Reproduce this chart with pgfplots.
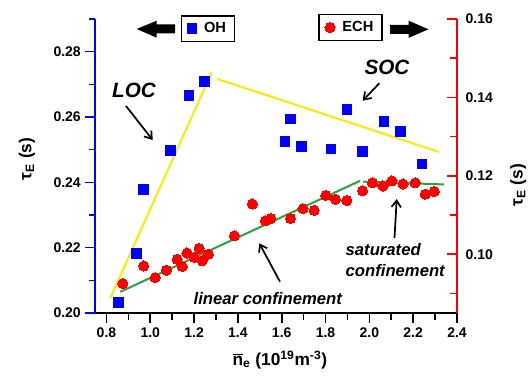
\documentclass[border=0pt]{standalone}
\usepackage{pgfplots}
\pgfplotsset{compat=1.18}
\usepackage{fontspec}
\setmainfont{Liberation Sans}
\usetikzlibrary{arrows.meta}
\definecolor{myyellow}{RGB}{255,235,0}
\definecolor{mygreen}{RGB}{40,165,60}
\definecolor{myblue}{RGB}{0,0,255}
\definecolor{myred}{RGB}{255,0,0}

\pgfplotstableread{
x y
0.855 0.2032
0.938 0.2183
0.970 0.2378
1.091 0.2498
1.176 0.2666
1.248 0.2709
1.615 0.2525
1.640 0.2594
1.691 0.2509
1.824 0.2502
1.898 0.2623
1.969 0.2495
2.066 0.2587
2.141 0.2555
2.241 0.2456
}\ohdata

\pgfplotstableread{
x y
0.875 0.0925
0.970 0.0970
1.022 0.0940
1.074 0.0959
1.123 0.0987
1.146 0.0969
1.167 0.1003
1.200 0.0992
1.223 0.1015
1.237 0.0983
1.265 0.1000
1.384 0.1047
1.466 0.1128
1.525 0.1085
1.550 0.1091
1.640 0.1091
1.697 0.1116
1.748 0.1112
1.801 0.1150
1.845 0.1140
1.897 0.1137
1.969 0.1162
2.014 0.1182
2.062 0.1174
2.103 0.1187
2.154 0.1179
2.209 0.1182
2.255 0.1153
2.296 0.1160
}\echdata

\begin{document}
\begin{tikzpicture}
\path[use as bounding box] (0,0) rectangle (399pt,284.25pt);
\pgfplotsset{
  common/.style={
    at={(71.625pt,49.5pt)}, anchor=south west,
    scale only axis, width=271.125pt, height=220.5pt,
    xmin=0.75, xmax=2.4,
    clip=false,
    /pgf/number format/assume math mode=true,
    ticklabel style={font=\bfseries\fontsize{10.5}{12}\selectfont},
    major tick length=7.5pt, minor tick length=5pt,
    axis line style={-, line width=1.5pt},
    legend cell align=left,
    legend image code/.code={\draw plot coordinates {(0.3cm,0cm)};},
  },
  mylegend/.style={
    draw=black, line width=0.9pt, font=\bfseries\fontsize{11}{13}\selectfont,
    inner xsep=4.5pt, inner ysep=3pt, row sep=0pt,
    /tikz/every odd column/.append style={column sep=3.5pt},
  }
}
% ---------- left axis (OH) ----------
\begin{axis}[common,
  ymin=0.20, ymax=0.29,
  axis x line*=bottom, axis y line*=left,
  tick align=outside,
  xtick={0.8,1.0,1.2,1.4,1.6,1.8,2.0,2.2,2.4},
  minor xtick={0.9,1.1,1.3,1.5,1.7,1.9,2.1,2.3},
  ytick={0.20,0.22,0.24,0.26,0.28},
  minor ytick={0.21,0.23,0.25,0.27,0.29},
  xticklabel style={/pgf/number format/.cd,fixed,fixed zerofill,precision=1},
  yticklabel style={/pgf/number format/.cd,fixed,fixed zerofill,precision=2},
  x axis line style={draw=black},
  y axis line style={draw=myblue},
  every x tick/.style={black, line width=1.2pt},
  every y tick/.style={myblue, line width=1.2pt},
  xtick pos=bottom, ytick pos=left,
  xlabel={\bfseries\fontsize{13}{15}\selectfont $\overline{\mbox{n}}$\textsubscript{e} (10\textsuperscript{19}m\textsuperscript{-3})},
  xlabel style={at={(axis description cs:0.51,-0.16)}, anchor=center},
  ylabel={\bfseries\fontsize{13}{15}\selectfont τ\textsubscript{E} (s)},
  ylabel style={at={(axis description cs:-0.19,0.524)}, anchor=center, rotate=0},
  legend style={mylegend, at={(axis description cs:0.311,0.967)}, anchor=center},
]
\addplot[only marks, mark=square*, mark size=3.6pt, color=myblue, mark options={solid, line width=0pt}] table[x=x,y=y]{\ohdata};
\addlegendentry{OH}
\addplot[forget plot, color=myyellow, line width=1.5pt] coordinates {(0.817,0.2045) (1.281,0.2737)};
\addplot[forget plot, color=myyellow, line width=1.5pt] coordinates {(1.304,0.2717) (2.318,0.2493)};
\end{axis}
% ---------- right axis (ECH) ----------
\begin{axis}[common,
  ymin=0.085, ymax=0.16,
  axis x line=none, axis y line*=right,
  tick align=inside,
  ytick={0.10,0.12,0.14,0.16},
  minor ytick={0.09,0.11,0.13,0.15},
  yticklabel style={xshift=3pt,/pgf/number format/.cd,fixed,fixed zerofill,precision=2},
  y axis line style={draw=myred},
  every y tick/.style={myred, line width=1.2pt},
  ytick pos=right,
  ylabel={\bfseries\fontsize{13}{15}\selectfont τ\textsubscript{E} (s)},
  ylabel style={at={(axis description cs:1.169,0.435)}, anchor=center, rotate=0},
  legend style={mylegend, at={(axis description cs:0.7054,0.971)}, anchor=center},
]
\addplot[only marks, mark=*, mark size=3.8pt, color=myred, mark options={solid, line width=0pt}] table[x=x,y=y]{\echdata};
\addlegendentry{ECH}
\addplot[forget plot, color=mygreen, line width=1.5pt] coordinates {(0.863,0.0904) (1.957,0.1187)};
\addplot[forget plot, color=mygreen, line width=1.5pt] coordinates {(1.972,0.1185) (2.340,0.1178)};
\end{axis}
% ---------- annotations (pixel coordinates from the top left) ----------
\begin{scope}[x=0.75pt, y=-0.75pt, shift={(0,284.25pt)}]
  \fill[black] (136.7,29) -- (156.7,20.7) -- (156.7,24.5) -- (175,24.5) -- (175,33.5) -- (156.7,33.5) -- (156.7,37.7) -- cycle;
  \fill[black] (428.5,29.3) -- (408.5,20.7) -- (408.5,24.8) -- (390,24.8) -- (390,33.8) -- (408.5,33.8) -- (408.5,37.9) -- cycle;
  \node[font=\bfseries\itshape\fontsize{15.5}{17}\selectfont] at (134,90.7) {LOC};
  \node[font=\bfseries\itshape\fontsize{15.5}{17}\selectfont] at (387,67.5) {SOC};
  \draw[line width=1.3pt, -{Straight Barb[length=5pt,width=7pt]}] (126,106) -- (152.7,140);
  \draw[line width=1.3pt, -{Straight Barb[length=5pt,width=7pt]}] (379.3,83.3) -- (362.7,100.7);
  \node[font=\bfseries\itshape\fontsize{12.5}{14}\selectfont] at (267.8,298.3) {linear confinement};
  \draw[line width=1.3pt, -{Straight Barb[length=5pt,width=7pt]}] (280,281.7) -- (259.3,243.3);
  \node[font=\bfseries\itshape\fontsize{12.5}{14}\selectfont, anchor=west] at (341,250) {saturated};
  \node[font=\bfseries\itshape\fontsize{12.5}{14}\selectfont, anchor=west] at (341,271) {confinement};
  \draw[line width=1.3pt, -{Straight Barb[length=5pt,width=7pt]}] (394.5,238) -- (396.7,199);
\end{scope}
\end{tikzpicture}
\end{document}
